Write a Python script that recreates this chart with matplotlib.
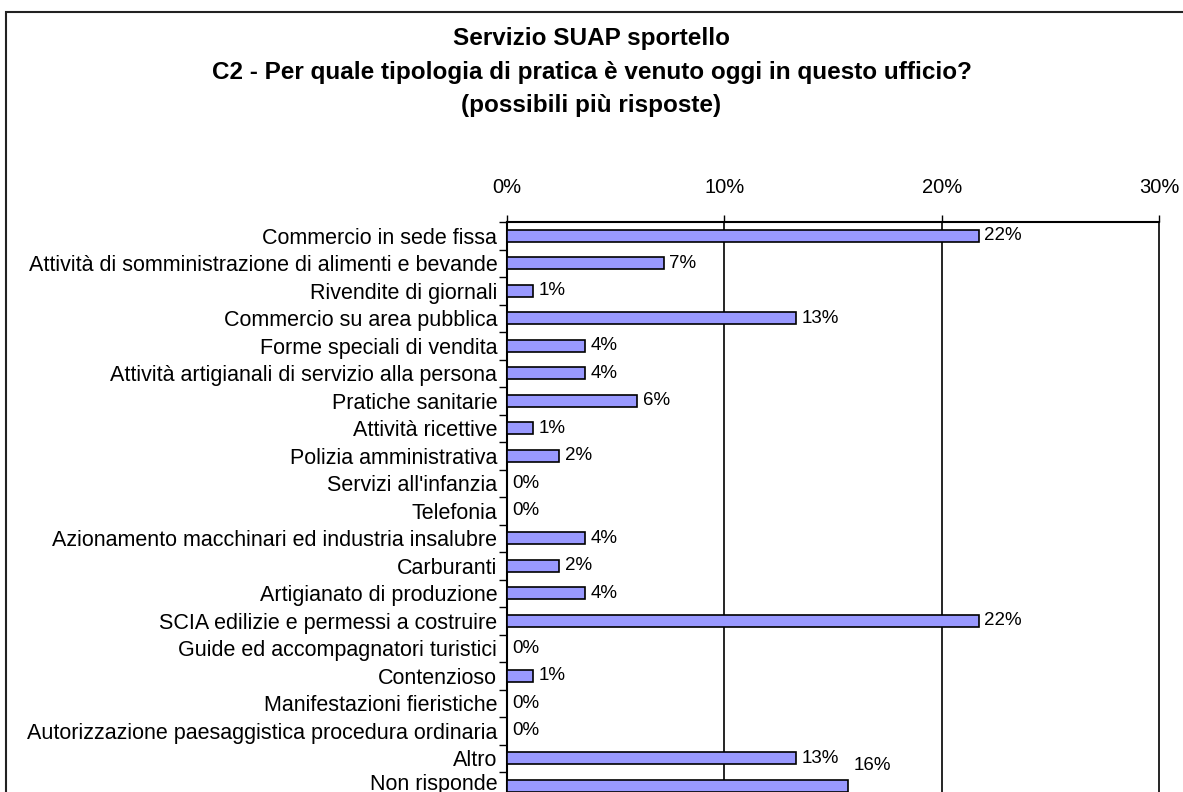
import matplotlib
matplotlib.use("Agg")
import matplotlib.pyplot as plt
from matplotlib.patches import Rectangle
from matplotlib.transforms import ScaledTranslation
import numpy as np

plt.rcParams['font.family'] = ['Liberation Sans', 'DejaVu Sans']

# dati del grafico (percentuali)
categorie = [
    "Commercio in sede fissa",
    "Attività di somministrazione di alimenti e bevande",
    "Rivendite di giornali",
    "Commercio su area pubblica",
    "Forme speciali di vendita",
    "Attività artigianali di servizio alla persona",
    "Pratiche sanitarie",
    "Attività ricettive",
    "Polizia amministrativa",
    "Servizi all'infanzia",
    "Telefonia",
    "Azionamento macchinari ed industria insalubre",
    "Carburanti",
    "Artigianato di produzione",
    "SCIA edilizie e permessi a costruire",
    "Guide ed accompagnatori turistici",
    "Contenzioso",
    "Manifestazioni fieristiche",
    "Autorizzazione paesaggistica procedura ordinaria",
    "Altro",
    "Non risponde",
]
valori = [21.7, 7.2, 1.2, 13.3, 3.6, 3.6, 6.0, 1.2, 2.4, 0.0, 0.0,
          3.6, 2.4, 3.6, 21.7, 0.0, 1.2, 0.0, 0.0, 13.3, 15.7]
tick_x = [0, 10, 20, 30]
tick_x_labels = ["0%", "10%", "20%", "30%"]
titolo = ("Servizio SUAP sportello\n"
          "C2 - Per quale tipologia di pratica è venuto oggi in questo ufficio?\n"
          "(possibili più risposte)")

W, H = 1183, 792
fig = plt.figure(figsize=(W / 100, H / 100), dpi=100)

# cornice esterna del grafico
fig.patches.append(Rectangle((6 / W, -0.05), (W + 20) / W, (H - 12) / H + 0.05,
                             transform=fig.transFigure, fill=False,
                             edgecolor='#222222', linewidth=1.5))

fig.text(0.5, 1 - 72 / H, titolo, ha='center', va='center',
         fontsize=17.5, fontweight='bold', linespacing=1.6)

left, right = 507 / W, 1159.3 / W
top, bottom = 1 - 222 / H, 1 - 799.5 / H
ax = fig.add_axes([left, bottom, right - left, top - bottom])

n = len(categorie)
y = np.arange(n)
ax.barh(y, valori, height=0.45, color='#9999FF', edgecolor='black',
        linewidth=1.2, zorder=3)

for i, v in enumerate(valori):
    dy = -0.75 if i == n - 1 else 0.0
    ax.text(v + 0.25, i + dy, f"{round(v):d}%", va='center', ha='left',
            fontsize=13.5, zorder=4)

ax.set_ylim(n - 0.5, -0.5)
ax.set_xlim(0, 30)

ax.xaxis.tick_top()
ax.set_xticks(tick_x)
ax.set_xticklabels(tick_x_labels, fontsize=14.5)
ax.tick_params(axis='x', direction='out', length=5, width=1, pad=13)

ax.set_yticks(y)
ax.set_yticklabels(categorie, fontsize=15.5)
ax.set_yticks(np.arange(n + 1) - 0.5, minor=True)
ax.tick_params(axis='y', which='major', length=0, pad=7)
ax.tick_params(axis='y', which='minor', direction='out', length=6, width=1)

# l'ultima etichetta un po' più su, per non uscire dal bordo
lbl = ax.get_yticklabels()[-1]
lbl.set_transform(lbl.get_transform() + ScaledTranslation(0, 4 / 100, fig.dpi_scale_trans))

for xv in tick_x[1:]:
    ax.axvline(xv, color='black', linewidth=1.2, zorder=1, clip_on=False)

for s in ['bottom', 'right']:
    ax.spines[s].set_visible(False)
ax.spines['top'].set_linewidth(1.5)
ax.spines['left'].set_linewidth(1.5)

fig.savefig("out.png", dpi=100)
